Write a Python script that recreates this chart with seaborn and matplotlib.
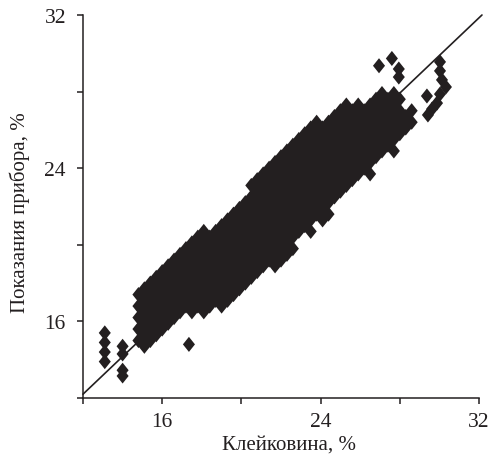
import matplotlib
matplotlib.use("Agg")
import matplotlib.pyplot as plt
import seaborn as sns
import pandas as pd

# ---------------- data ----------------
x_label = "Клейковина, %"
y_label = "Показания прибора, %"

x_ticks = [12, 16, 20, 24, 28, 32]
x_tick_labels = ["", "16", "", "24", "", "32"]
y_ticks = [12, 16, 20, 24, 28, 32]
y_tick_labels = ["", "16", "", "24", "", "32"]

# dense cloud
cloud_col_x = [14.8, 15.1, 15.4, 15.7, 16.0, 16.3, 16.6, 16.9, 17.2, 17.5,
               17.8, 18.1, 18.4, 18.7, 19.0, 19.3, 19.6, 19.9, 20.2, 20.5,
               20.8, 21.1, 21.4, 21.7, 22.0, 22.3, 22.6, 22.9, 23.2, 23.5,
               23.8, 24.1, 24.4, 24.7, 25.0, 25.3, 25.6, 25.9, 26.2, 26.5,
               26.8, 27.1, 27.4, 27.7, 28.0, 28.3, 28.6]
cloud_col_y = [
    [15.0, 15.6, 16.2, 16.8, 17.4],
    [14.7, 15.3, 15.9, 16.5, 17.1, 17.7],
    [15.0, 15.6, 16.2, 16.8, 17.4, 18.0],
    [15.3, 15.9, 16.5, 17.1, 17.7, 18.3],
    [15.6, 16.2, 16.8, 17.4, 18.0, 18.6],
    [15.9, 16.5, 17.1, 17.7, 18.3, 18.9],
    [16.2, 16.8, 17.4, 18.0, 18.6, 19.2],
    [16.5, 17.1, 17.7, 18.3, 18.9, 19.5],
    [16.8, 17.4, 18.0, 18.6, 19.2, 19.8],
    [16.5, 17.1, 17.7, 18.3, 18.9, 19.5, 20.1],
    [16.8, 17.4, 18.0, 18.6, 19.2, 19.8, 20.4],
    [16.5, 17.1, 17.7, 18.3, 18.9, 19.5, 20.1, 20.7],
    [16.8, 17.4, 18.0, 18.6, 19.2, 19.8, 20.4],
    [17.1, 17.7, 18.3, 18.9, 19.5, 20.1, 20.7],
    [16.8, 17.4, 18.0, 18.6, 19.2, 19.8, 20.4, 21.0],
    [17.1, 17.7, 18.3, 18.9, 19.5, 20.1, 20.7, 21.3],
    [17.4, 18.0, 18.6, 19.2, 19.8, 20.4, 21.0, 21.6],
    [17.7, 18.3, 18.9, 19.5, 20.1, 20.7, 21.3, 21.9],
    [18.0, 18.6, 19.2, 19.8, 20.4, 21.0, 21.6, 22.2],
    [18.3, 18.9, 19.5, 20.1, 20.7, 21.3, 21.9, 22.5, 23.1],
    [18.6, 19.2, 19.8, 20.4, 21.0, 21.6, 22.2, 22.8, 23.4],
    [18.9, 19.5, 20.1, 20.7, 21.3, 21.9, 22.5, 23.1, 23.7],
    [19.2, 19.8, 20.4, 21.0, 21.6, 22.2, 22.8, 23.4, 24.0],
    [18.9, 19.5, 20.1, 20.7, 21.3, 21.9, 22.5, 23.1, 23.7, 24.3],
    [19.2, 19.8, 20.4, 21.0, 21.6, 22.2, 22.8, 23.4, 24.0, 24.6],
    [19.5, 20.1, 20.7, 21.3, 21.9, 22.5, 23.1, 23.7, 24.3, 24.9],
    [19.8, 20.4, 21.0, 21.6, 22.2, 22.8, 23.4, 24.0, 24.6, 25.2],
    [20.7, 21.3, 21.9, 22.5, 23.1, 23.7, 24.3, 24.9, 25.5],
    [21.0, 21.6, 22.2, 22.8, 23.4, 24.0, 24.6, 25.2, 25.8],
    [20.7, 21.3, 21.9, 22.5, 23.1, 23.7, 24.3, 24.9, 25.5, 26.1],
    [21.6, 22.2, 22.8, 23.4, 24.0, 24.6, 25.2, 25.8, 26.4],
    [21.3, 21.9, 22.5, 23.1, 23.7, 24.3, 24.9, 25.5, 26.1],
    [21.6, 22.2, 22.8, 23.4, 24.0, 24.6, 25.2, 25.8, 26.4],
    [22.5, 23.1, 23.7, 24.3, 24.9, 25.5, 26.1, 26.7],
    [22.8, 23.4, 24.0, 24.6, 25.2, 25.8, 26.4, 27.0],
    [23.1, 23.7, 24.3, 24.9, 25.5, 26.1, 26.7, 27.3],
    [23.4, 24.0, 24.6, 25.2, 25.8, 26.4, 27.0],
    [23.7, 24.3, 24.9, 25.5, 26.1, 26.7, 27.3],
    [24.0, 24.6, 25.2, 25.8, 26.4, 27.0],
    [23.7, 24.3, 24.9, 25.5, 26.1, 26.7, 27.3],
    [24.6, 25.2, 25.8, 26.4, 27.0, 27.6],
    [24.9, 25.5, 26.1, 26.7, 27.3, 27.9],
    [25.2, 25.8, 26.4, 27.0, 27.6],
    [24.9, 25.5, 26.1, 26.7, 27.3, 27.9],
    [25.8, 26.4, 27.0, 27.6],
    [26.1, 26.7],
    [26.4, 27.0],
]

# isolated points
out_x = [13.1, 13.1, 13.1, 13.1, 14.0, 14.0, 14.0, 14.0, 17.35,
         26.95, 27.6, 27.95, 27.95,
         30.03, 30.03, 30.13, 30.33, 30.03, 29.37, 29.88, 29.63, 29.42]
out_y = [15.4, 14.9, 14.4, 13.9, 14.7, 14.3, 13.45, 13.15, 14.8,
         29.35, 29.73, 29.18, 28.76,
         29.55, 29.08, 28.61, 28.24, 27.87, 27.77, 27.4, 27.09, 26.78]

# regression line end points
line_x = [12.0, 32.15]
line_y = [12.2, 32.0]

# ---------------- build table ----------------
xs, ys = [], []
for cx, col in zip(cloud_col_x, cloud_col_y):
    for cy in col:
        xs.append(cx)
        ys.append(cy)
xs += out_x
ys += out_y
df = pd.DataFrame({"x": xs, "y": ys})

# ---------------- plot ----------------
sns.set_style("ticks")
plt.rcParams["font.family"] = ["Liberation Serif", "DejaVu Serif"]
ink = "#231f20"

fig = plt.figure(figsize=(4.93, 4.60), dpi=100)
ax = fig.add_axes([83 / 493, 1 - 399 / 460, 396 / 493, 383 / 460])

diamond = [(0, 1), (0.8, 0), (0, -1), (-0.8, 0), (0, 1)]
sns.scatterplot(data=df, x="x", y="y", marker=diamond, s=118, color=ink,
                edgecolor="none", linewidth=0, ax=ax, zorder=2)
sns.lineplot(x=line_x, y=line_y, color=ink, linewidth=1.2, ax=ax,
             zorder=3, clip_on=False)

ax.set_xlim(12, 32)
ax.set_ylim(12, 32)
ax.set_xticks(x_ticks)
ax.set_xticklabels(x_tick_labels)
ax.set_yticks(y_ticks)
ax.set_yticklabels(y_tick_labels)

for side in ["top", "right"]:
    ax.spines[side].set_visible(False)
for side in ["left", "bottom"]:
    ax.spines[side].set_linewidth(1.1)
    ax.spines[side].set_color(ink)

ax.tick_params(axis="both", direction="out", length=4.3, width=1.1,
               color=ink, labelcolor=ink, labelsize=15.5)
ax.tick_params(axis="y", pad=8)
ax.tick_params(axis="x", pad=6)

ax.set_xlabel(x_label, fontsize=15, color=ink)
ax.set_ylabel(y_label, fontsize=15, color=ink)
ax.xaxis.set_label_coords(0.521, -0.095)
ax.yaxis.set_label_coords(-0.134, 0.487)
ax.grid(False)

fig.savefig("out.png", dpi=100)
